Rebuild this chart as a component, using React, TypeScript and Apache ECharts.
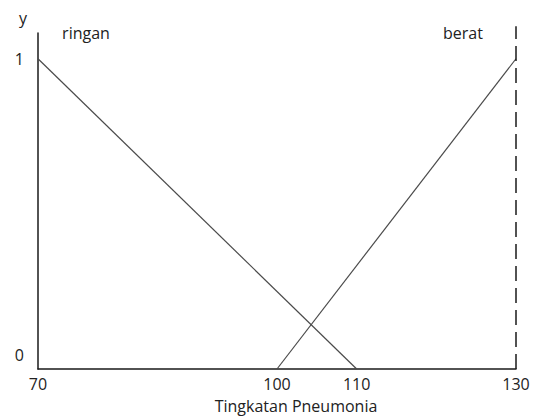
import React, { useEffect, useRef } from "react";
import * as echarts from "echarts";

const xTicks = [70, 100, 110, 130];
const ringan = [[70, 1], [110, 0]];
const berat = [[100, 0], [130, 1]];
const beratEdge = [[130, 0], [130, 1.105]];
const xTitle = "Tingkatan Pneumonia";
const yTitle = "y";

const FONT = "Open Sans";
const FS = 16;

export default function App() {
  const ref = useRef<HTMLDivElement>(null);
  useEffect(() => {
    if (!ref.current) return;
    const chart = echarts.init(ref.current, null, { renderer: "svg" });
    chart.setOption({
      animation: false,
      backgroundColor: "#ffffff",
      textStyle: { fontFamily: FONT },
      grid: { left: 38, right: 26, top: 33, bottom: 46 },
      xAxis: {
        type: "value",
        min: 70,
        max: 130,
        name: xTitle,
        nameLocation: "middle",
        nameGap: 29,
        nameTextStyle: { color: "#222", fontSize: FS, fontFamily: FONT, padding: [0, 0, 0, 38] },
        axisLine: { show: true, lineStyle: { color: "#1a1a1a", width: 1.5 } },
        axisTick: { show: false },
        splitLine: { show: false },
        axisLabel: {
          customValues: xTicks,
          color: "#222",
          fontSize: FS,
          fontFamily: FONT,
          margin: 7,
        },
      },
      yAxis: {
        type: "value",
        min: 0,
        max: 1.083,
        interval: 1,
        axisLine: { show: true, lineStyle: { color: "#1a1a1a", width: 1.5 } },
        axisTick: { show: false },
        splitLine: { show: false },
        axisLabel: {
          color: "#222",
          fontSize: FS,
          fontFamily: FONT,
          margin: 14,
          showMaxLabel: false,
          formatter: (v: number) => (v === 0 ? "{z|0}" : v === 1 ? "1" : ""),
          rich: { z: { fontSize: FS, fontFamily: FONT, color: "#222", padding: [0, 0, 28, 0] } },
        },
      },
      graphic: [
        {
          type: "text",
          left: 19,
          top: 10,
          style: { text: yTitle, fontSize: FS, fontFamily: FONT, fill: "#222" },
        },
      ],
      series: [
        {
          type: "line",
          data: ringan,
          symbol: "none",
          lineStyle: { color: "#4a4a4a", width: 1.2 },
          markPoint: {
            symbol: "circle",
            symbolSize: 0,
            data: [{ coord: ringan[0], value: "ringan" }],
            label: { show: true, formatter: "ringan", color: "#222", fontSize: FS, fontFamily: FONT, offset: [48, -26] },
          },
        },
        {
          type: "line",
          data: berat,
          symbol: "none",
          lineStyle: { color: "#4a4a4a", width: 1.2 },
          markPoint: {
            symbol: "circle",
            symbolSize: 0,
            data: [{ coord: berat[1], value: "berat" }],
            label: { show: true, formatter: "berat", color: "#222", fontSize: FS, fontFamily: FONT, offset: [-53, -26] },
          },
        },
        {
          type: "line",
          data: beratEdge,
          symbol: "none",
          clip: false,
          lineStyle: { color: "#1a1a1a", width: 1.5, type: [15, 7] },
        },
      ],
    });
    return () => chart.dispose();
  }, []);
  return (
    <div
      ref={ref}
      style={{ position: "absolute", left: 0, top: 0, width: 542, height: 419 }}
    />
  );
}
